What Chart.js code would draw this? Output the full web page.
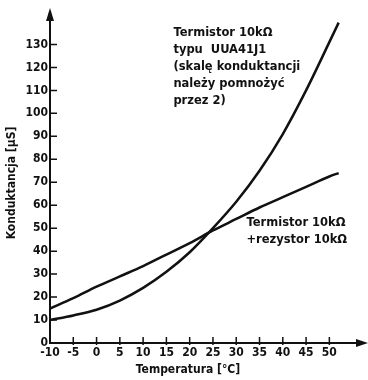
<!DOCTYPE html>
<html>
<head>
<meta charset="utf-8">
<script src="https://cdn.jsdelivr.net/npm/chart.js@4/dist/chart.umd.min.js"></script>
<style>
  html, body { margin: 0; padding: 0; background: #fff; }
  #wrap { width: 368px; height: 380px; position: relative; }
</style>
</head>
<body>
<div id="wrap"><canvas id="c"></canvas></div>
<script>
// dane
const temps = [-10, -5, 0, 5, 10, 15, 20, 25, 30, 35, 40, 45, 50, 52]
// termistor 10kΩ typu UUA41J1 (skala x2)
const thermistor = [10, 12, 14.5, 18.5, 24, 31, 39.5, 50, 61.5, 75, 91, 110, 131, 139.5]
// termistor 10kΩ + rezystor 10kΩ
const withResistor = [15, 19.5, 24.5, 29, 33.5, 38.5, 43.5, 49, 54, 59, 63.5, 68, 72.5, 74]
const xTicks = [-10, -5, 0, 5, 10, 15, 20, 25, 30, 35, 40, 45, 50]
const yTicks = [0, 10, 20, 30, 40, 50, 60, 70, 80, 90, 100, 110, 120, 130]

const notes = [
  { x: 16.5, y: 135, lines: ['Termistor 10kΩ', 'typu  UUA41J1', '(skalę konduktancji', 'należy pomnożyć', 'przez 2)'] },
  { x: 32.2, y: 52.2, lines: ['Termistor 10kΩ', '+rezystor 10kΩ'] },
]

const FONT = '"DejaVu Sans Condensed", "DejaVu Sans", sans-serif'
const NOTE_FONT = '"DejaVu Sans", sans-serif'
const INK = '#111'

const pts = (ys) => temps.map((t, i) => ({ x: t, y: ys[i] }))

// osie ze strzałkami, kreski podziałki, opisy
const axisDeco = {
  id: 'axisDeco',
  afterDraw(chart) {
    const { ctx, chartArea: a, scales: { x, y } } = chart
    ctx.save()
    ctx.strokeStyle = INK
    ctx.fillStyle = INK
    ctx.lineWidth = 2
    // osie
    ctx.beginPath()
    ctx.moveTo(a.left, a.top + 4); ctx.lineTo(a.left, a.bottom)
    ctx.lineTo(a.right - 4, a.bottom)
    ctx.stroke()
    // strzałki
    ctx.beginPath()
    ctx.moveTo(a.left, a.top - 2); ctx.lineTo(a.left - 4, a.top + 11); ctx.lineTo(a.left + 4, a.top + 11); ctx.closePath(); ctx.fill()
    ctx.beginPath()
    ctx.moveTo(a.right, a.bottom); ctx.lineTo(a.right - 12, a.bottom - 4); ctx.lineTo(a.right - 12, a.bottom + 4); ctx.closePath(); ctx.fill()
    // kreski
    ctx.lineWidth = 1.5
    ctx.beginPath()
    yTicks.forEach(v => { if (v === 0) return; const py = y.getPixelForValue(v); ctx.moveTo(a.left, py); ctx.lineTo(a.left + 7, py) })
    xTicks.forEach(v => { if (v === -10) return; const px = x.getPixelForValue(v); ctx.moveTo(px, a.bottom - 6); ctx.lineTo(px, a.bottom + 2) })
    ctx.stroke()
    // tytuły osi
    ctx.font = 'bold 12px ' + FONT
    ctx.textAlign = 'center'
    ctx.textBaseline = 'middle'
    ctx.fillText('Temperatura [°C]', 188, 370)
    ctx.save()
    ctx.translate(12, 183)
    ctx.rotate(-Math.PI / 2)
    ctx.fillText('Konduktancja [µS]', 0, 0)
    ctx.restore()
    // opisy krzywych
    ctx.textAlign = 'left'
    ctx.font = 'bold 11.5px ' + NOTE_FONT
    notes.forEach(n => {
      const px = x.getPixelForValue(n.x), py = y.getPixelForValue(n.y)
      n.lines.forEach((l, i) => ctx.fillText(l, px, py + i * 17))
    })
    ctx.restore()
  },
}

new Chart(document.getElementById('c'), {
  type: 'scatter',
  data: {
    datasets: [
      { data: pts(thermistor), showLine: true, borderColor: INK, borderWidth: 2.5, pointRadius: 0, cubicInterpolationMode: 'monotone', fill: false },
      { data: pts(withResistor), showLine: true, borderColor: INK, borderWidth: 2.5, pointRadius: 0, cubicInterpolationMode: 'monotone', fill: false },
    ],
  },
  options: {
    responsive: true, maintainAspectRatio: false, animation: false,
    layout: { padding: { top: 10, right: 0, left: 0, bottom: 0 } },
    plugins: { legend: { display: false }, tooltip: { enabled: false } },
    scales: {
      x: {
        type: 'linear', min: -10, max: 58.3,
        afterFit: (s) => { s.height = 37 },
        afterBuildTicks: (s) => { s.ticks = xTicks.map(v => ({ value: v })) },
        grid: { display: false, drawTicks: false },
        border: { display: false },
        ticks: { color: INK, padding: 3, maxRotation: 0, autoSkip: false, font: { family: FONT, size: 12, weight: 'bold' } },
      },
      y: {
        min: 0, max: 145,
        afterFit: (s) => { s.width = 50 },
        afterBuildTicks: (s) => { s.ticks = yTicks.map(v => ({ value: v })) },
        grid: { display: false, drawTicks: false },
        border: { display: false },
        ticks: { color: INK, padding: 2, autoSkip: false, font: { family: FONT, size: 12, weight: 'bold' } },
      },
    },
  },
  plugins: [axisDeco],
})
</script>
</body>
</html>
